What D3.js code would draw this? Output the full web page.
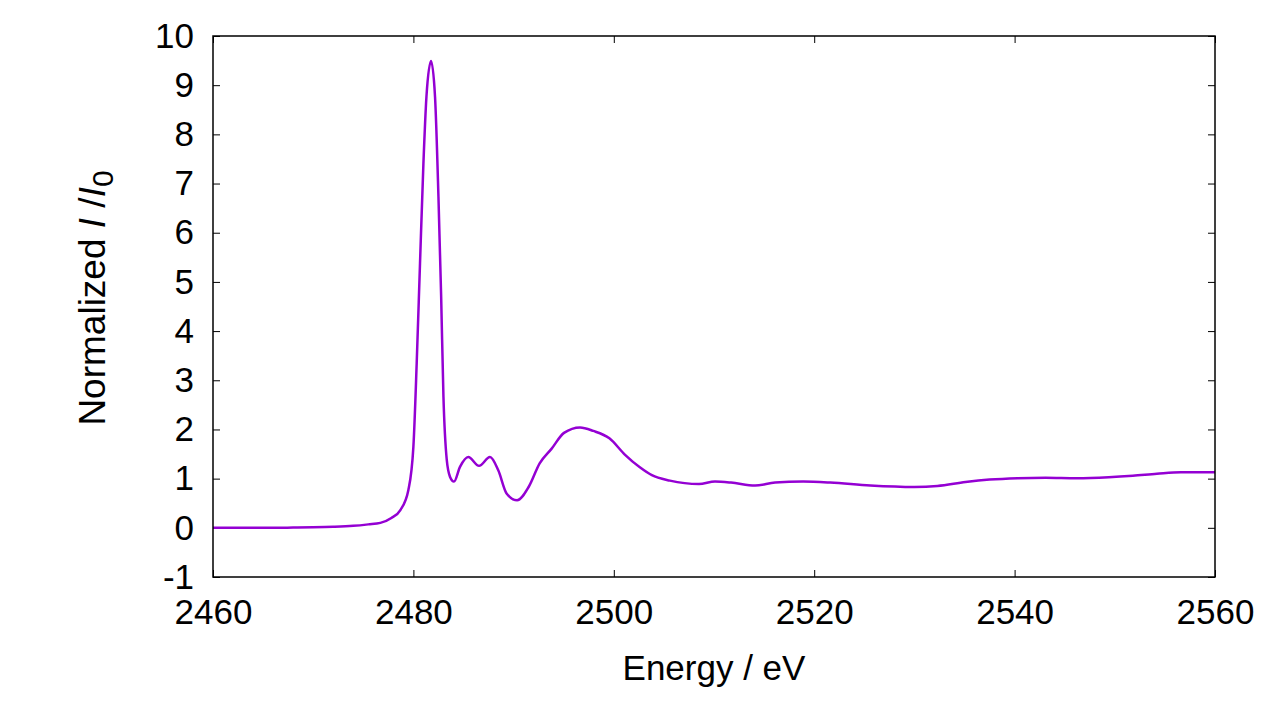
<!DOCTYPE html>
<html><head><meta charset="utf-8">
<script src="https://cdn.jsdelivr.net/npm/d3@7"></script>
<style>body{margin:0;background:#fff}svg{display:block}text{font-family:"Liberation Sans",Arial,Helvetica,sans-serif}</style>
</head><body>
<svg id="c" width="1280" height="720"></svg>
<script>
const energy = [2460,2465,2468,2470,2472,2474,2475.5,2476.7,2477.8,2478.7,2479.5,2480.0,2480.33,2480.66,2481.0,2481.3,2481.76,2482.16,2482.5,2482.77,2483.0,2483.33,2483.65,2484.05,2484.65,2485.48,2486.55,2487.64,2488.47,2489.3,2490.35,2491.5,2492.6,2493.8,2495.03,2496.63,2497.96,2499.56,2501.1,2502.6,2503.8,2505.6,2508.5,2510.1,2511.7,2514.1,2516.1,2518.9,2521.6,2525.6,2530,2532.3,2535.1,2537.5,2540.3,2543.1,2546.2,2549.4,2551.8,2554.2,2556.6,2560];
const intensity = [0.0,0.0,0.005,0.01,0.02,0.04,0.07,0.1,0.2,0.36,0.77,1.65,3.35,5.38,7.41,8.76,9.49,8.76,6.73,4.7,2.66,1.38,1.04,0.94,1.24,1.44,1.26,1.44,1.17,0.70,0.56,0.83,1.31,1.61,1.93,2.04,1.97,1.82,1.49,1.23,1.07,0.96,0.89,0.94,0.92,0.86,0.92,0.94,0.92,0.86,0.83,0.85,0.93,0.98,1.01,1.02,1.01,1.03,1.06,1.10,1.13,1.13];
const xTicks = [2460,2480,2500,2520,2540,2560];
const yTicks = [-1,0,1,2,3,4,5,6,7,8,9,10];

const W=1280,H=720,m={l:213,r:65,t:36,b:143};
const svg=d3.select("#c");
const x=d3.scaleLinear().domain([2460,2560]).range([m.l,W-m.r]);
const y=d3.scaleLinear().domain([-1,10]).range([H-m.b,m.t]);
const fs=35, tl=7;
const fmt=d=>String(d);

const g=svg.append("g");
const axB=d3.axisBottom(x).tickValues(xTicks).tickSize(-tl).tickPadding(22).tickFormat(fmt);
const axT=d3.axisTop(x).tickValues(xTicks).tickSize(-tl).tickFormat("");
const axL=d3.axisLeft(y).tickValues(yTicks).tickSize(-tl).tickPadding(19).tickFormat(fmt);
const axR=d3.axisRight(y).tickValues(yTicks).tickSize(-tl).tickFormat("");
function style(sel){sel.select(".domain").remove();sel.selectAll(".tick line").attr("stroke","#000").attr("stroke-width",1);sel.selectAll("text").attr("font-size",fs).attr("fill","#000").attr("font-family",'"Liberation Sans",Arial,sans-serif');}
g.append("g").attr("transform",`translate(0,${H-m.b})`).call(axB).call(style);
g.append("g").attr("transform",`translate(0,${m.t})`).call(axT).call(style);
g.append("g").attr("transform",`translate(${m.l},0)`).call(axL).call(style);
g.append("g").attr("transform",`translate(${W-m.r},0)`).call(axR).call(style);

svg.append("defs").append("clipPath").attr("id","clip").append("rect").attr("x",m.l).attr("y",m.t).attr("width",W-m.l-m.r).attr("height",H-m.t-m.b);
const pts=energy.map((e,i)=>[e,intensity[i]]);
svg.append("path").datum(pts).attr("clip-path","url(#clip)")
  .attr("fill","none").attr("stroke","#9400d3").attr("stroke-width",2.5).attr("stroke-linejoin","round")
  .attr("d",d3.line().x(d=>x(d[0])).y(d=>y(d[1])).curve(d3.curveMonotoneX));

svg.append("rect").attr("x",m.l).attr("y",m.t).attr("width",W-m.l-m.r).attr("height",H-m.t-m.b)
  .attr("fill","none").attr("stroke","#000").attr("stroke-width",1.5);

svg.append("text").attr("x",(m.l+W-m.r)/2).attr("y",680).attr("text-anchor","middle").attr("font-size",fs).attr("fill","#000").text("Energy / eV");
const yl=svg.append("text").attr("transform",`translate(105,298) rotate(-90)`).attr("text-anchor","middle").attr("font-size",37).attr("fill","#000");
yl.append("tspan").text("Normalized ");
yl.append("tspan").attr("font-style","italic").text("I");
yl.append("tspan").text(" /");
yl.append("tspan").attr("font-style","italic").text("I");
yl.append("tspan").attr("font-size",30).attr("dy",8).text("0");
</script>
</body></html>
